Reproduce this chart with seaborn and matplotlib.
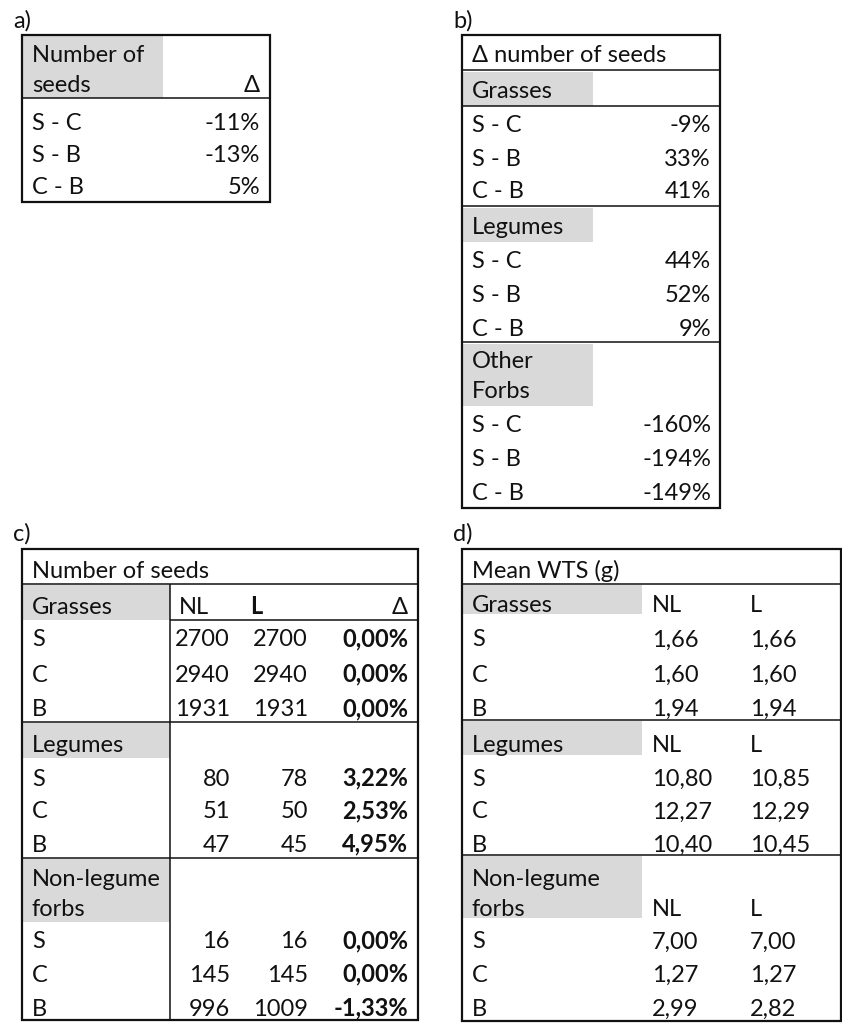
import matplotlib
matplotlib.use("Agg")
import matplotlib.pyplot as plt
import seaborn as sns
from matplotlib.patches import Rectangle

pairs = ["S - C", "S - B", "C - B"]
sites = ["S", "C", "B"]

# a) overall change in number of seeds
a_delta = ["-11%", "-13%", "5%"]

# b) change in number of seeds per functional group
b_groups = ["Grasses", "Legumes", "Other\nForbs"]
b_delta = [["-9%", "33%", "41%"],
           ["44%", "52%", "9%"],
           ["-160%", "-194%", "-149%"]]

# c) number of seeds, NL vs L
c_groups = ["Grasses", "Legumes", "Non-legume\nforbs"]
c_nl = [[2700, 2940, 1931], [80, 51, 47], [16, 145, 996]]
c_l = [[2700, 2940, 1931], [78, 50, 45], [16, 145, 1009]]
c_delta = [["0,00%", "0,00%", "0,00%"],
           ["3,22%", "2,53%", "4,95%"],
           ["0,00%", "0,00%", "-1,33%"]]

# d) mean WTS (g)
d_groups = ["Grasses", "Legumes", "Non-legume\nforbs"]
d_nl = [["1,66", "1,60", "1,94"], ["10,80", "12,27", "10,40"], ["7,00", "1,27", "2,99"]]
d_l = [["1,66", "1,60", "1,94"], ["10,85", "12,29", "10,45"], ["7,00", "1,27", "2,82"]]

sns.set_theme(style="white")
plt.rcParams["font.family"] = ["Lato", "DejaVu Sans"]

FS = 17
INK = "#111111"
GREY = "#d9d9d9"

fig = plt.figure(figsize=(8.42, 10.23), dpi=100)
ax = fig.add_axes([0, 0, 1, 1])
ax.set_xlim(0, 842)
ax.set_ylim(1023, 0)
ax.axis("off")


def txt(x, y, s, ha="left", bold=False):
    ax.text(x, y + 8.5, s, ha=ha, va="baseline", fontsize=FS, color=INK,
            fontweight="bold" if bold else "normal")


def hline(y, x0, x1, lw=1.1):
    ax.plot([x0, x1], [y, y], color=INK, lw=lw, solid_capstyle="butt")


def vline(x, y0, y1, lw=1.1):
    ax.plot([x, x], [y0, y1], color=INK, lw=lw, solid_capstyle="butt")


def grey(x0, y0, x1, y1):
    ax.add_patch(Rectangle((x0, y0), x1 - x0, y1 - y0, color=GREY, lw=0))


def box(x0, y0, x1, y1):
    ax.add_patch(Rectangle((x0, y0), x1 - x0, y1 - y0, fill=False,
                           edgecolor=INK, lw=1.6))


# ---------------- a) ----------------
txt(13, 19, "a)")
grey(23, 36, 163, 98)
txt(32, 53, "Number of")
txt(32, 84, "seeds")
txt(260, 84, "Δ", ha="right")
hline(98, 22, 270)
for k, (p, d) in enumerate(zip(pairs, a_delta)):
    y = 121 + 32.5 * k
    txt(32, y, p)
    txt(260, y, d, ha="right")
box(22, 35, 270, 202)

# ---------------- b) ----------------
txt(453, 19, "b)")
txt(472, 53, "Δ number of seeds")
hline(70, 462, 720)
b_tops = [70, 206, 342]
b_head = [[90], [226], [359, 390]]
b_rows = [[124, 158, 190], [260, 293, 327], [424, 457, 491]]
for g in range(3):
    heads = b_head[g]
    grey(463, b_tops[g] + 2, 593, heads[-1] + 16)
    for line, y in zip(b_groups[g].split("\n"), heads):
        txt(472, y, line)
    if g == 0:
        hline(106, 462, 720)
    else:
        hline(b_tops[g], 462, 720)
    for p, d, y in zip(pairs, b_delta[g], b_rows[g]):
        txt(472, y, p)
        txt(711, y, d, ha="right")
box(462, 35, 720, 508)

# ---------------- c) ----------------
txt(13, 532, "c)")
txt(32, 569, "Number of seeds")
hline(584, 22, 418)
vline(170, 584, 1020)
c_tops = [584, 722, 858]
c_head = [[605], [743], [877, 907]]
c_rows = [[638, 673, 708], [777, 810, 843], [940, 973, 1007]]
for g in range(3):
    heads = c_head[g]
    grey(23, c_tops[g] + 1, 170, heads[-1] + 15)
    for line, y in zip(c_groups[g].split("\n"), heads):
        txt(32, y, line)
    if g > 0:
        hline(c_tops[g], 22, 418)
    for s, nl, l, d, y in zip(sites, c_nl[g], c_l[g], c_delta[g], c_rows[g]):
        txt(32, y, s)
        txt(230, y, str(nl), ha="right")
        txt(308, y, str(l), ha="right")
        txt(408, y, d, ha="right", bold=True)
txt(179, 605, "NL")
txt(250, 605, "L", bold=True)
txt(408, 605, "Δ", ha="right")
hline(620, 170, 418)
box(22, 549, 418, 1020)

# ---------------- d) ----------------
txt(453, 532, "d)")
txt(472, 569, "Mean WTS (g)")
hline(584, 462, 841)
d_tops = [584, 720, 855]
d_head = [[603], [744], [877, 907]]
d_rows = [[638, 673, 707], [777, 810, 843], [940, 973, 1007]]
for g in range(3):
    heads = d_head[g]
    grey(463, d_tops[g] + 1, 642, heads[-1] + 11)
    for line, y in zip(d_groups[g].split("\n"), heads):
        txt(472, y, line)
    txt(652, heads[-1], "NL")
    txt(750, heads[-1], "L")
    if g > 0:
        hline(d_tops[g], 462, 841)
    for s, nl, l, y in zip(sites, d_nl[g], d_l[g], d_rows[g]):
        txt(472, y, s)
        txt(652, y, nl)
        txt(750, y, l)
box(462, 549, 841, 1021)

fig.savefig("out.png", dpi=100)
